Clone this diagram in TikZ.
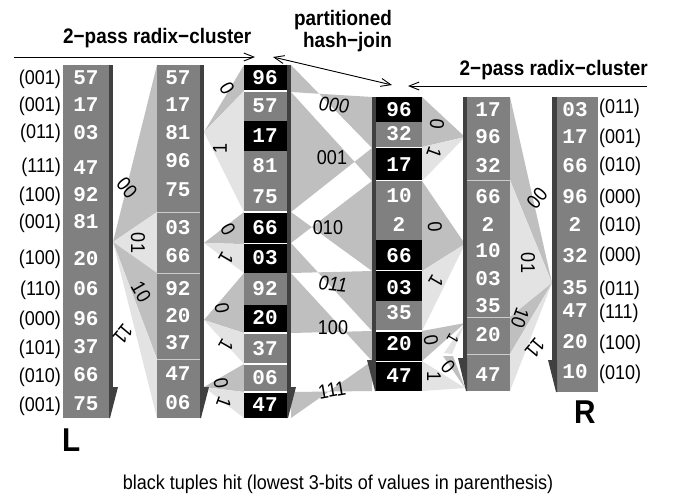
\documentclass[tikz,border=0pt]{standalone}
\usepackage{fontspec}
\setmainfont{Liberation Sans}[FakeStretch=0.9]
\newfontfamily\numfont{Liberation Mono}
\usetikzlibrary{arrows.meta}
\definecolor{colbody}{gray}{0.5}
\definecolor{colshade}{gray}{0.25}
\definecolor{wmed}{gray}{0.75}
\definecolor{wlight}{gray}{0.89}
\begin{document}
\begin{tikzpicture}[x=1pt,y=-1pt,
  num/.style={text=white,font=\numfont\bfseries\fontsize{21}{21}\selectfont,inner sep=0pt,text height=12.5pt,text depth=0pt},
  lab/.style={font=\fontsize{20}{20}\selectfont,inner sep=0pt,text height=13.5pt,text depth=0pt},
  wlab/.style={font=\fontsize{20}{20}\selectfont,inner sep=0pt},
  wlabi/.style={font=\itshape\fontsize{20}{20}\selectfont,inner sep=0pt},
  ttl/.style={font=\bfseries\fontsize{21}{21}\selectfont,inner sep=0pt},
  big/.style={font=\bfseries\fontsize{33}{33}\selectfont,inner sep=0pt},
  tipr/.style={-{Straight Barb[length=10pt,width=8pt]},line width=0.9pt},
  tipb/.style={{Straight Barb[length=10pt,width=8pt]}-{Straight Barb[length=10pt,width=8pt]},line width=0.9pt},
  medw/.style={fill=wmed},
  lightw/.style={fill=wlight},
  body/.style={fill=colbody},
  shade/.style={fill=colshade},
  hit/.style={fill=black},
  sep/.style={draw=white,line width=1.2pt},
  lsep/.style={draw=gray!40,line width=1pt}]
\useasboundingbox[fill=white] (0,0) rectangle (675,499);

% ---------- apex coordinates ----------
\coordinate (A) at (113,242);
\coordinate (B00) at (204,132);
\coordinate (B01) at (204,243);
\coordinate (B10) at (204,320);
\coordinate (B11) at (204,387);
\coordinate (C00) at (465,137);
\coordinate (C01) at (465,244);
\coordinate (C10) at (465,323);
\coordinate (C11) at (465,388);
\coordinate (D) at (552,283);

% ---------- pass 1 fan L1 -> L2 ----------
\fill[medw] (A) -- (157,65) -- (157,212) -- cycle;
\fill[lightw] (A) -- (157,212) -- (157,273) -- cycle;
\fill[medw] (A) -- (157,273) -- (157,359) -- cycle;
\fill[lightw] (A) -- (157,359) -- (157,418) -- cycle;

% ---------- pass 2 fans L2 -> L3 ----------
\fill[medw] (B00) -- (244,65) -- (244,91) -- cycle;
\fill[lightw] (B00) -- (244,91) -- (244,212) -- cycle;
\fill[medw] (B01) -- (244,212) -- (244,244) -- cycle;
\fill[lightw] (B01) -- (244,244) -- (244,273) -- cycle;
\fill[medw] (B10) -- (244,273) -- (244,333) -- cycle;
\fill[lightw] (B10) -- (244,333) -- (244,364) -- cycle;
\fill[medw] (B11) -- (244,364) -- (244,392) -- cycle;
\fill[lightw] (B11) -- (244,392) -- (244,418) -- cycle;

% ---------- join bow-ties L3 <-> H ----------
\foreach \a/\b/\c/\d in {65/92/97/148, 92/212/148/181, 212/243/181/271, 243/273/271/331, 273/333/331/361, 392/418/361/391}
  \fill[medw] (291,\a) -- (372,\d) -- (372,\c) -- (291,\b) -- cycle;

% ---------- pass 2 fans R2 -> H ----------
\fill[medw] (C00) -- (422,97) -- (422,147) -- cycle;
\fill[lightw] (C00) -- (422,147) -- (422,181) -- cycle;
\fill[medw] (C01) -- (422,181) -- (422,271) -- cycle;
\fill[lightw] (C01) -- (422,271) -- (422,331) -- cycle;
\fill[medw] (C10) -- (422,331) -- (422,361) -- cycle;
\fill[lightw] (C10) -- (444,353) -- (452,354) -- cycle;
\fill[lightw] (C11) -- (422,361) -- (422,391) -- cycle;
\fill[medw] (C11) -- (443,356) -- (453,356) -- cycle;

% ---------- pass 1 fan R -> R2 ----------
\fill[medw] (D) -- (510,97) -- (510,180) -- cycle;
\fill[lightw] (D) -- (510,180) -- (510,317) -- cycle;
\fill[medw] (D) -- (510,317) -- (510,354) -- cycle;
\fill[lightw] (D) -- (510,354) -- (510,391) -- cycle;

% ---------- columns ----------
% L1
\fill[body] (63,65) rectangle (109,418);
\fill[shade] (109,65) rectangle (113,387);
\fill[shade] (109,387) -- (118,387) -- (110,418) -- (109,418) -- cycle;
% L2
\fill[body] (157,65) rectangle (200,418);
\fill[shade] (200,65) rectangle (204,387);
\fill[shade] (200,387) -- (209,387) -- (201,418) -- (200,418) -- cycle;
\foreach \s in {212,273,359} \draw[lsep] (157,\s) -- (200,\s);
% L3
\fill[body] (244,65) rectangle (287,418);
\fill[shade] (287,65) rectangle (291,387);
\fill[shade] (287,387) -- (296,387) -- (288,418) -- (287,418) -- cycle;
\foreach \a/\b in {65/91,121/151,212/243,244/273,305/332,392/418}
  \fill[hit] (244,\a) rectangle (287,\b);
\foreach \s in {91,212,243.5,333,364,392} \draw[sep] (244,\s) -- (287,\s);
% H
\fill[body] (376,97) rectangle (422,391);
\fill[shade] (372,97) rectangle (376,360);
\fill[shade] (376,360) -- (367,360) -- (375,391) -- (376,391) -- cycle;
\foreach \a/\b in {97/122,148/180,240/270,271/301,331/361,362/391}
  \fill[hit] (376,\a) rectangle (422,\b);
\foreach \s in {147.5,180.5,270.5,331,361.5} \draw[sep] (376,\s) -- (422,\s);
% R2
\fill[body] (467,97) rectangle (510,391);
\fill[shade] (463,97) rectangle (467,358);
\fill[shade] (467,358) -- (458,358) -- (466,391) -- (467,391) -- cycle;
\foreach \s in {180,317,354} \draw[lsep] (467,\s) -- (510,\s);
% R
\fill[body] (557,97) rectangle (598,392);
\fill[shade] (552,97) rectangle (557,360);
\fill[shade] (557,360) -- (548,360) -- (556,392) -- (557,392) -- cycle;

% ---------- values ----------
\foreach \v/\yy [count=\i] in {57/78,17/105,03/133,47/168,92/195,81/222,20/259,06/289,96/319,37/347,66/375,75/404}
  \node[num] (la\i) at (86,\yy) {\v};
\foreach \v/\yy [count=\i] in {57/78,17/105,81/133,96/161,75/190,03/228,66/256,92/289,20/316,37/343,47/374,06/403}
  \node[num] (lb\i) at (178,\yy) {\v};
\foreach \v/\yy [count=\i] in {96/78,57/106,17/136,81/166,75/197,66/228,03/258,92/289,20/318,37/349,06/378,47/405}
  \node[num] (lc\i) at (265,\yy) {\v};
\foreach \v/\yy [count=\i] in {96/110,32/134,17/165,10/196,2/225,66/256,03/288,35/313,20/344,47/376}
  \node[num] (ha\i) at (399,\yy) {\v};
\foreach \v/\yy [count=\i] in {17/110,96/137,32/166,66/197,2/225,10/251,03/279,35/306,20/335,47/375}
  \node[num] (ra\i) at (488,\yy) {\v};
\foreach \v/\yy [count=\i] in {03/110,17/137,66/166,96/197,2/225,32/256,35/288,47/311,20/342,10/372}
  \node[num] (rb\i) at (575,\yy) {\v};

% ---------- bit labels ----------
\foreach \t/\yy [count=\i] in {001/78,001/105,011/132,111/166,100/195,001/222,100/258,110/289,000/319,101/348,010/376,001/405}
  \node[lab,anchor=east] (ll\i) at (61,\yy) {(\t)};
\foreach \t/\yy [count=\i] in {011/107,001/137,010/165,000/197,010/225,000/255,011/289,111/312,100/343,010/373}
  \node[lab,anchor=west] (rl\i) at (599,\yy) {(\t)};

% ---------- wedge labels ----------
\node[wlab,rotate=-50] (w1) at (127,188) {00};
\node[wlab,rotate=-90] (w2) at (138,243) {01};
\node[wlab,rotate=-60] (w3) at (141,292) {10};
\node[wlab,rotate=-130] (w4) at (123,334) {11};

\node[wlab,rotate=-60] (w5) at (227,88) {0};
\node[wlab,rotate=90] (w6) at (220,148) {1};
\node[wlab,rotate=-60] (w7) at (228,229) {0};
\node[wlab,rotate=-120] (w8) at (226,258) {1};
\node[wlab,rotate=-80] (w9) at (222,308) {0};
\node[wlab,rotate=-120] (w10) at (226,345) {1};
\node[wlab,rotate=-80] (w11) at (221,383) {0};
\node[wlab,rotate=-110] (w12) at (224,403) {1};

\node[wlabi,rotate=-5] (j1) at (334,105) {000};
\node[wlab] (j2) at (332,158) {001};
\node[wlab] (j3) at (328,228) {010};
\node[wlabi,rotate=-5] (j4) at (333,284) {011};
\node[wlab] (j5) at (333,328) {100};
\node[wlab,rotate=10] (j6) at (332,390) {111};

\node[wlab,rotate=-95] (h1) at (437,124) {0};
\node[wlab,rotate=-110] (h2) at (434,153) {1};
\node[wlab,rotate=-85] (h3) at (435,227) {0};
\node[wlab,rotate=-120] (h4) at (436,281) {1};
\node[wlab,rotate=-80] (h5) at (431,340) {0};
\node[wlab,rotate=-120,font=\fontsize{16}{16}\selectfont] (h6) at (453,339) {1};
\node[wlab,rotate=-90] (h7) at (434,376) {1};
\node[wlab,rotate=-50] (h8) at (448,367) {0};

\node[wlab,rotate=50] (r1) at (537,198) {00};
\node[wlab,rotate=-90] (r2) at (528,263) {01};
\node[wlab,rotate=-110] (r3) at (520,318) {10};
\node[wlab,rotate=-130] (r4) at (535,348) {11};

% ---------- titles and arrows ----------
\node[ttl,anchor=base west] (t1) at (63,43) {2−pass radix−cluster};
\node[ttl,anchor=base east] (t2) at (392,25) {partitioned};
\node[ttl,anchor=base east] (t3) at (392,47) {hash−join};
\node[ttl,anchor=base east] (t4) at (648,75) {2−pass radix−cluster};
\coordinate (a1) at (14,57);
\coordinate (a2) at (255,57);
\coordinate (p1) at (273,57);
\coordinate (p2) at (392,85);
\coordinate (b1) at (647,86);
\coordinate (b2) at (408,86);
\draw[tipr] (a1) -- (a2);
\draw[tipb] (p1) -- (p2);
\draw[tipr] (b1) -- (b2);

\node[big,anchor=base west] (L) at (62,451) {L};
\node[big,anchor=base west] (R) at (574,423) {R};
\node[font=\fontsize{20}{20}\selectfont,inner sep=0pt,anchor=base] (cap) at (338,489) {black tuples hit (lowest 3-bits of values in parenthesis)};
\end{tikzpicture}
\end{document}
